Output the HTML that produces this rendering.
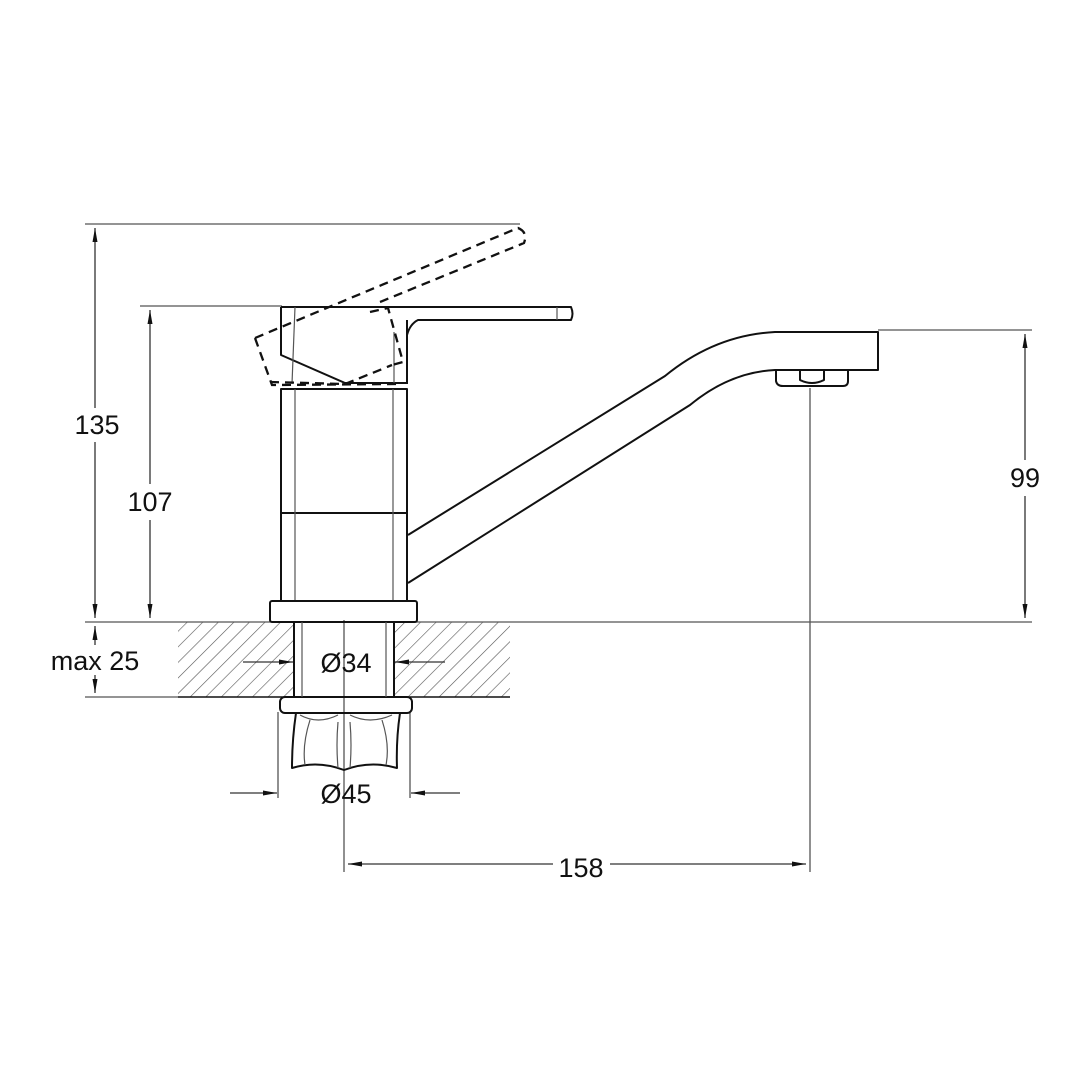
<!DOCTYPE html>
<html><head><meta charset="utf-8"><style>
html,body{margin:0;padding:0;background:#fff}
svg{display:block}
text{font-family:"Liberation Sans",sans-serif;font-size:27px;fill:#111}
</style></head><body>
<svg width="1080" height="1080" viewBox="0 0 1080 1080" xmlns="http://www.w3.org/2000/svg">
<defs>
<pattern id="h" patternUnits="userSpaceOnUse" width="11" height="11" patternTransform="rotate(45)">
<line x1="0" y1="0" x2="0" y2="11" stroke="#555" stroke-width="1.2"/>
</pattern>
<marker id="a" markerWidth="14" markerHeight="6" refX="14" refY="3" orient="auto" markerUnits="userSpaceOnUse">
<path d="M0,0.5 L14,3 L0,5.5 Z" fill="#111"/>
</marker>
</defs>
<g fill="none" stroke="#555" stroke-width="1.3">
<line x1="85" y1="224" x2="520" y2="224"/>
<line x1="140" y1="306" x2="282" y2="306"/>
<line x1="85" y1="622" x2="1032" y2="622"/>
<line x1="85" y1="697" x2="178" y2="697"/>
<line x1="878" y1="330" x2="1032" y2="330"/>
<line x1="344" y1="620" x2="344" y2="872"/>
<line x1="810" y1="388" x2="810" y2="872"/>
<line x1="278" y1="712" x2="278" y2="798"/>
<line x1="410" y1="712" x2="410" y2="798"/>
</g>
<rect x="178" y="622" width="115" height="75" fill="url(#h)"/>
<rect x="395" y="622" width="115" height="75" fill="url(#h)"/>
<g stroke="#111" stroke-width="1.6" fill="none">
<line x1="178" y1="697" x2="294" y2="697"/>
<line x1="394" y1="697" x2="510" y2="697"/>
</g>
<g stroke="#333" stroke-width="1.3" fill="none">
<line x1="95" y1="408" x2="95" y2="228" marker-end="url(#a)"/>
<line x1="95" y1="442" x2="95" y2="618" marker-end="url(#a)"/>
<line x1="150" y1="484" x2="150" y2="310" marker-end="url(#a)"/>
<line x1="150" y1="520" x2="150" y2="618" marker-end="url(#a)"/>
<line x1="95" y1="645" x2="95" y2="626" marker-end="url(#a)"/>
<line x1="95" y1="675" x2="95" y2="693" marker-end="url(#a)"/>
<line x1="1025" y1="460" x2="1025" y2="334" marker-end="url(#a)"/>
<line x1="1025" y1="496" x2="1025" y2="618" marker-end="url(#a)"/>
<line x1="553" y1="864" x2="348" y2="864" marker-end="url(#a)"/>
<line x1="610" y1="864" x2="806" y2="864" marker-end="url(#a)"/>
<line x1="243" y1="662" x2="293" y2="662" marker-end="url(#a)"/>
<line x1="445" y1="662" x2="395" y2="662" marker-end="url(#a)"/>
<line x1="230" y1="793" x2="277" y2="793" marker-end="url(#a)"/>
<line x1="460" y1="793" x2="411" y2="793" marker-end="url(#a)"/>
</g>
<g stroke="#111" stroke-width="2" fill="none" stroke-linejoin="round">
<rect x="281" y="389" width="126" height="212"/>
<line x1="281" y1="513" x2="407" y2="513"/>
<rect x="270" y="601" width="147" height="21" rx="2"/>
<line x1="294" y1="622" x2="294" y2="697"/>
<line x1="394" y1="622" x2="394" y2="697"/>
<rect x="280" y="697" width="132" height="16" rx="5"/>
<path d="M296,713 Q292,740 292,768 Q318,760 344,770 Q370,760 397,768 Q396,740 400,713"/>
<path d="M281,307 L281,355 L345,383 L407,383 L407,335 Q410,324 418,320 L571,320 Q574,314 571,307 L281,307"/>
<path d="M407,320 L407,384"/>
<path d="M408,535 L665,376 Q715,335 775,332 L878,332 L878,370 L775,370 Q730,372 690,405 L408,583"/>
<path d="M776,370 L776,381 Q777,386 783,386 L843,386 Q848,386 848,381 L848,370"/>
<path d="M800,371 L800,380 Q812,386 824,380 L824,371"/>
</g>
<g stroke="#555" stroke-width="1.2" fill="none">
<line x1="295" y1="307" x2="292" y2="384"/>
<line x1="295" y1="389" x2="295" y2="600"/>
<line x1="393" y1="389" x2="393" y2="600"/>
<line x1="302" y1="622" x2="302" y2="697"/>
<line x1="386" y1="622" x2="386" y2="697"/>
<line x1="394" y1="332" x2="394" y2="384"/>
<line x1="557" y1="307" x2="557" y2="320"/>
<path d="M310,720 Q302,745 305,765"/>
<path d="M338,722 Q336,745 338,768"/>
<path d="M350,722 Q352,745 350,768"/>
<path d="M382,720 Q390,745 386,765"/>
<path d="M300,715 Q318,725 338,715"/>
<path d="M350,715 Q370,725 392,715"/>
</g>
<g stroke="#111" stroke-width="2.3" fill="none" stroke-dasharray="9,6">
<path d="M255,338 L518,228 Q528,232 524,243 L380,302"/>
<path d="M255,338 L272,385 L400,384"/>
<path d="M370,312 L388,308 L403,362 L388,366"/>
<path d="M270,382 L345,384 Q375,372 392,365"/>
</g>
<text x="97" y="434" text-anchor="middle">135</text>
<text x="150" y="511" text-anchor="middle">107</text>
<text x="1025" y="487" text-anchor="middle">99</text>
<text x="95" y="670" text-anchor="middle">max 25</text>
<text x="346" y="672" text-anchor="middle">Ø34</text>
<text x="346" y="803" text-anchor="middle">Ø45</text>
<text x="581" y="877" text-anchor="middle">158</text>
</svg>
</body></html>
